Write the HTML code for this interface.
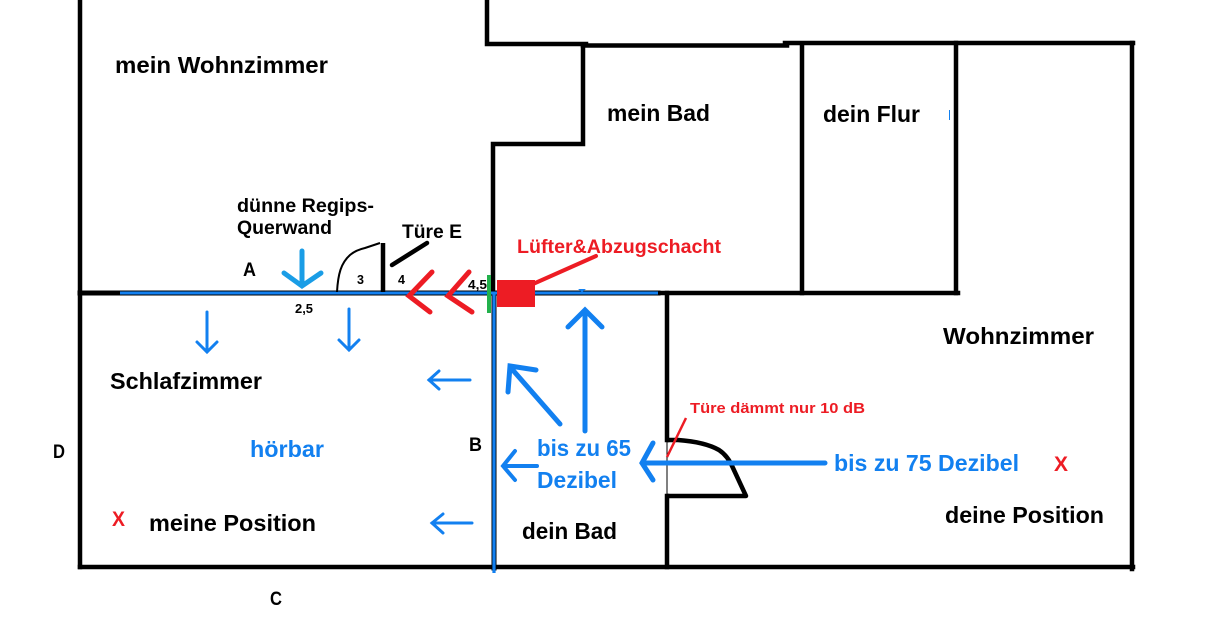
<!DOCTYPE html>
<html><head><meta charset="utf-8"><style>
html,body{margin:0;padding:0;background:#fff;}
svg{display:block;}
text{font-family:"Liberation Sans",Arial,sans-serif;font-weight:bold;}
</style></head><body>
<svg width="1213" height="635" viewBox="0 0 1213 635" xmlns="http://www.w3.org/2000/svg">
<rect width="1213" height="635" fill="#fff"/>
<g fill="none" stroke="#000" stroke-width="4.5" stroke-linecap="square">
  <path d="M80 0 V567"/>
  <path d="M80 567 H1133"/>
  <path d="M1132 43 V569"/>
  <path d="M487 0 V44 H586"/>
  <path d="M583 45.5 H787"/>
  <path d="M785 43 H1133"/>
  <path d="M583 45 V144 H493 V293"/>
  <path d="M802 45 V293"/>
  <path d="M956 43 V293"/>
  <path d="M658 293 H958"/>
  <path d="M667 293 V440"/>
  <path d="M667 496 V567"/>
  <path d="M80 293 H658" stroke-width="5"/>
  <path d="M494 293 V568" stroke-width="5"/>
</g>
<path d="M667 440 V496" stroke="#000" stroke-width="1"/>
<!-- door dein Bad -->
<path d="M667 440 L678 440 Q705 442 719 450 Q728 456 733 468 L746 496 L667 496" fill="none" stroke="#000" stroke-width="4.5" stroke-linejoin="round"/>
<!-- blue overlay lines -->
<path d="M120 293 H658" stroke="#1280f0" stroke-width="3"/>
<path d="M494 293 V573" stroke="#1280f0" stroke-width="3.2"/>
<!-- door Türe E -->
<path d="M337 292 C338 274 341 263 350 255 Q356 250 365 248 L380 243" fill="none" stroke="#000" stroke-width="2"/>
<path d="M383 243 V292" stroke="#000" stroke-width="4.5"/>
<path d="M392 265 L427 243" stroke="#000" stroke-width="4.5" stroke-linecap="round"/>
<!-- red chevrons -->
<g fill="none" stroke="#ed1c24" stroke-width="5" stroke-linecap="round" stroke-linejoin="miter">
  <path d="M432 272 L409 296 L430 312"/>
  <path d="M469 272 L448 296 L472 312"/>
</g>
<path d="M489 275 V313" stroke="#22b14c" stroke-width="4"/>
<rect x="497" y="280" width="38" height="27" fill="#ed1c24"/>
<path d="M533 284 L596 256" stroke="#ed1c24" stroke-width="4" stroke-linecap="round"/>
<polygon points="578,289 586,289 582,292" fill="#1280f0"/>
<path d="M949.5 110 V120" stroke="#1280f0" stroke-width="1"/>
<!-- turquoise arrow -->
<g fill="none" stroke="#1a9de6" stroke-width="5" stroke-linecap="round">
  <path d="M302 251 V285"/>
  <path d="M284 273 L302 286 L321 273"/>
</g>
<!-- thin blue arrows -->
<g fill="none" stroke="#1280f0" stroke-width="3" stroke-linecap="round">
  <path d="M207 312 V351"/><path d="M197 342 L207 352 L217 342"/>
  <path d="M349 309 V349"/><path d="M339 340 L349 350 L359 340"/>
  <path d="M470 380 H429"/><path d="M439 371 L429 380 L439 389"/>
  <path d="M472 523 H432"/><path d="M443 514 L432 523 L443 533"/>
</g>
<!-- thick blue arrows -->
<g fill="none" stroke="#1280f0" stroke-width="5" stroke-linecap="round">
  <path d="M585 431 V311"/><path d="M568 327 L585 310 L602 327"/>
  <path d="M560 424 L511 368"/><path d="M508 392 L510 366 L536 370"/>
  <path d="M537 466 H504" stroke-width="4"/><path d="M515 451 L503 466 L515 480" stroke-width="4"/>
  <path d="M825 463 H643"/><path d="M653 443 L642 463 L653 480"/>
</g>
<path d="M686 418 L667 457" stroke="#ed1c24" stroke-width="2.5"/>
<!-- black labels -->
<g fill="#000" font-size="23">
  <text x="115" y="73" textLength="213" lengthAdjust="spacingAndGlyphs">mein Wohnzimmer</text>
  <text x="607" y="121" textLength="103" lengthAdjust="spacingAndGlyphs">mein Bad</text>
  <text x="823" y="122" textLength="97" lengthAdjust="spacingAndGlyphs">dein Flur</text>
  <text x="943" y="344" textLength="151" lengthAdjust="spacingAndGlyphs">Wohnzimmer</text>
  <text x="110" y="389" textLength="152" lengthAdjust="spacingAndGlyphs">Schlafzimmer</text>
  <text x="149" y="531" textLength="167" lengthAdjust="spacingAndGlyphs">meine Position</text>
  <text x="522" y="539" textLength="95" lengthAdjust="spacingAndGlyphs">dein Bad</text>
  <text x="945" y="523" textLength="159" lengthAdjust="spacingAndGlyphs">deine Position</text>
</g>
<g fill="#000" font-size="19">
  <text x="237" y="212" textLength="137" lengthAdjust="spacingAndGlyphs">dünne Regips-</text>
  <text x="237" y="234" textLength="95" lengthAdjust="spacingAndGlyphs">Querwand</text>
  <text x="402" y="238" textLength="60" lengthAdjust="spacingAndGlyphs">Türe E</text>
  <text x="243" y="276" textLength="13" lengthAdjust="spacingAndGlyphs">A</text>
  <text x="53" y="458" textLength="12" lengthAdjust="spacingAndGlyphs">D</text>
  <text x="469" y="451" textLength="13" lengthAdjust="spacingAndGlyphs">B</text>
  <text x="270" y="605" textLength="12" lengthAdjust="spacingAndGlyphs">C</text>
</g>
<g fill="#000" font-size="12.5">
  <text x="357" y="284">3</text>
  <text x="398" y="284">4</text>
  <text x="468" y="289" textLength="19" lengthAdjust="spacingAndGlyphs">4,5</text>
  <text x="295" y="313" textLength="18" lengthAdjust="spacingAndGlyphs">2,5</text>
</g>
<!-- red labels -->
<g fill="#ed1c24">
  <text x="517" y="253" font-size="19" textLength="204" lengthAdjust="spacingAndGlyphs">Lüfter&amp;Abzugschacht</text>
  <text x="690" y="413" font-size="15" textLength="175" lengthAdjust="spacingAndGlyphs">Türe dämmt nur 10 dB</text>
  <text x="112" y="526" font-size="21" textLength="13" lengthAdjust="spacingAndGlyphs">X</text>
  <text x="1054" y="471" font-size="21" textLength="14" lengthAdjust="spacingAndGlyphs">X</text>
</g>
<!-- blue labels -->
<g fill="#1280f0" font-size="23">
  <text x="250" y="457" textLength="74" lengthAdjust="spacingAndGlyphs">hörbar</text>
  <text x="537" y="456" textLength="94" lengthAdjust="spacingAndGlyphs">bis zu 65</text>
  <text x="537" y="488" textLength="80" lengthAdjust="spacingAndGlyphs">Dezibel</text>
  <text x="834" y="471" textLength="185" lengthAdjust="spacingAndGlyphs">bis zu 75 Dezibel</text>
</g>
</svg>
</body></html>
